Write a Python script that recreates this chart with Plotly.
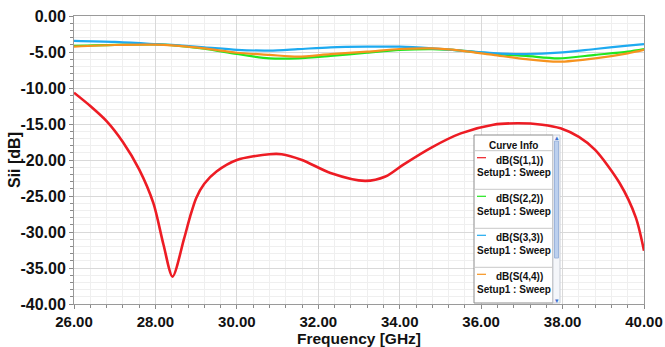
import plotly.graph_objects as go

# ---------------- data ----------------
freq_s11 = [26.0, 26.4, 26.8, 27.2, 27.6, 27.95, 28.2, 28.42, 28.7, 28.85, 29.0, 29.2, 29.5, 30.0,
            30.8, 31.1, 31.6, 32.3, 33.15, 33.65, 34.1, 34.8, 35.5, 36.3, 36.9, 37.5,
            37.95, 38.4, 38.8, 39.4, 39.8, 40.0]
s11 = [-10.65, -12.5, -14.6, -17.5, -21.3, -26.0, -31.8, -36.2, -31.0, -27.9, -25.3, -23.3, -21.6, -20.0,
       -19.2, -19.2, -20.0, -21.8, -22.9, -22.3, -20.6, -18.2, -16.3, -15.1, -14.9, -15.1,
       -15.6, -16.8, -18.6, -23.2, -28.0, -32.6]

freq_top = [26.0, 27.0, 28.0, 28.4, 29.2, 30.0, 30.8, 31.5, 32.3, 33.2, 34.0, 34.8,
            35.5, 36.3, 37.1, 37.9, 38.8, 39.6, 40.0]
s22 = [-4.15, -4.0, -3.95, -4.05, -4.55, -5.28, -5.88, -5.88, -5.55, -5.1, -4.72, -4.6,
       -4.8, -5.28, -5.55, -5.88, -5.4, -4.96, -4.6]
s33 = [-3.45, -3.6, -3.9, -4.02, -4.35, -4.7, -4.8, -4.6, -4.35, -4.26, -4.26, -4.5,
       -4.8, -5.15, -5.28, -5.1, -4.58, -4.12, -3.92]
s44 = [-4.25, -4.03, -3.98, -4.07, -4.49, -5.1, -5.4, -5.65, -5.3, -4.96, -4.58, -4.5,
       -4.8, -5.4, -6.0, -6.35, -5.88, -5.18, -4.7]

x_ticks = [26, 28, 30, 32, 34, 36, 38, 40]
x_ticktext = ["26.00", "28.00", "30.00", "32.00", "34.00", "36.00", "38.00", "40.00"]
y_ticks = [0, -5, -10, -15, -20, -25, -30, -35, -40]
y_ticktext = ["0.00", "-5.00", "-10.00", "-15.00", "-20.00", "-25.00", "-30.00", "-35.00", "-40.00"]

names = ["dB(S(1,1))", "dB(S(2,2))", "dB(S(3,3))", "dB(S(4,4))"]
colors = ["#ED1C24", "#22E61E", "#1EAAF0", "#F7931E"]
setup_label = "Setup1 : Sweep"

# ---------------- figure ----------------
W, H = 665, 347
L, R, T, B = 74, 21, 16, 43
PW, PH = W - L - R, H - T - B

def px(x):
    return (x - L) / PW

def py(y):
    return (H - B - y) / PH

fig = go.Figure()
series = [(freq_s11, s11, 2.6), (freq_top, s22, 2.2), (freq_top, s33, 2.2), (freq_top, s44, 2.2)]
for (fx, fy, w), c, n in zip(series, colors, names):
    fig.add_trace(go.Scatter(x=fx, y=fy, mode="lines", name=n,
                             line=dict(color=c, width=w, shape="spline", smoothing=0.8),
                             showlegend=False, hoverinfo="skip"))

font_fam = "Liberation Sans, Arial, sans-serif"
axis_common = dict(
    showline=True, linecolor="#9a9a9a", linewidth=1, mirror=True,
    ticks="outside", ticklen=4, tickcolor="#8a8a8a",
    showgrid=True, gridcolor="#d9d9d9", gridwidth=1,
    zeroline=False, automargin=False,
)

fig.update_xaxes(range=[26, 40], tickvals=x_ticks, ticktext=x_ticktext,
                 tickfont=dict(family=font_fam, size=15, color="#111111", weight="bold"),
                 minor=dict(dtick=0.4, tick0=26, showgrid=True, gridcolor="#efefef",
                            ticks="outside", ticklen=3, tickcolor="#8a8a8a"),
                 title=dict(text="Frequency [GHz]", standoff=5,
                            font=dict(family=font_fam, size=15.5, color="#111111", weight="bold")),
                 **axis_common)
fig.update_yaxes(range=[-40, 0], tickvals=y_ticks, ticktext=y_ticktext,
                 tickfont=dict(family=font_fam, size=16, color="#111111", weight="bold"),
                 minor=dict(dtick=1, tick0=0, showgrid=True, gridcolor="#efefef",
                            ticks="outside", ticklen=3, tickcolor="#8a8a8a"),
                 **axis_common)

# ---------------- y-axis title & "Curve Info" box ----------------
shapes = []
annots = []

def note(text, x, y, size=10, color="#111", bold=True, **kw):
    annots.append(dict(text=text, x=px(x), y=py(y), xref="paper", yref="paper",
                       xanchor="center", yanchor="middle", showarrow=False,
                       font=dict(family=font_fam, size=size, color=color,
                                 weight="bold" if bold else "normal"), **kw))

note("Sii [dB]", 14, 160, size=16, color="#111111", textangle=-90)

bx0, bx1, by0, by1 = 474, 553, 135, 303
shapes.append(dict(type="rect", xref="paper", yref="paper", x0=px(bx0), x1=px(bx1),
                   y0=py(by1), y1=py(by0), fillcolor="white",
                   line=dict(color="#8c8c8c", width=1), layer="above"))
# scrollbar track and thumb
shapes.append(dict(type="rect", xref="paper", yref="paper", x0=px(553), x1=px(560),
                   y0=py(by1), y1=py(by0), fillcolor="#f4f6fa",
                   line=dict(color="#c8ccd4", width=1), layer="above"))
shapes.append(dict(type="rect", xref="paper", yref="paper", x0=px(554.5), x1=px(558.5),
                   y0=py(258), y1=py(141), fillcolor="#bcd0ee",
                   line=dict(color="#9db5dc", width=1), layer="above"))
note("▴", 556.5, 137.5, size=7, color="#3a6fd0", bold=False)
note("▾", 556.5, 300, size=7, color="#3a6fd0", bold=False)

note("Curve Info", 513.5, 145)
shapes.append(dict(type="line", xref="paper", yref="paper", x0=px(bx0), x1=px(bx1),
                   y0=py(150.7), y1=py(150.7), line=dict(color="#c8c8c8", width=1), layer="above"))

entry_tops = [150.7, 189.3, 228.3, 267.3]
for i, (n, c) in enumerate(zip(names, colors)):
    t0 = entry_tops[i]
    shapes.append(dict(type="line", xref="paper", yref="paper", x0=px(477), x1=px(486),
                       y0=py(t0 + 7), y1=py(t0 + 7), line=dict(color=c, width=1.2), layer="above"))
    note(n, 519.5, t0 + 9.5)
    note(setup_label, 513.5, t0 + 22)
    if i < 3:
        shapes.append(dict(type="line", xref="paper", yref="paper", x0=px(bx0), x1=px(bx1),
                           y0=py(entry_tops[i + 1]), y1=py(entry_tops[i + 1]),
                           line=dict(color="#c8c8c8", width=1), layer="above"))

fig.update_layout(
    width=W, height=H,
    margin=dict(l=L, r=R, t=T, b=B, pad=0),
    paper_bgcolor="white", plot_bgcolor="white",
    shapes=shapes, annotations=annots,
    font=dict(family=font_fam),
)

fig.write_html("out.html")
